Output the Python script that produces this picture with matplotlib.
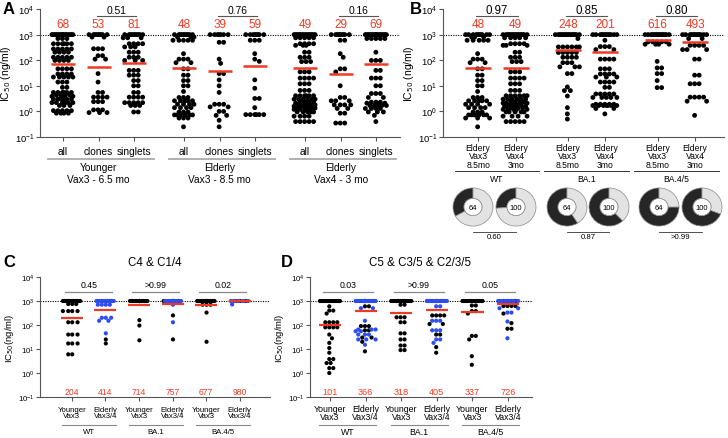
import numpy as np
import matplotlib.pyplot as plt
import matplotlib.transforms as mtrans
from matplotlib.ticker import NullLocator

plt.rcParams['font.family'] = ['Liberation Sans', 'DejaVu Sans']

W, H = 728, 439
RED = '#ee3a24'
BLUE = '#2d4cf2'
GREY = '#555555'

# ---- data: (IC50 value, number of antibodies) ----
# panel A
younger_all = [(1000, 16), (700, 3), (440, 6), (275, 5), (205, 4), (130, 5), (98, 4), (46, 4), (29, 4),
               (22, 5), (14, 3), (8.7, 2), (5.5, 6), (4.3, 4), (3.9, 3), (3.0, 6), (2.2, 6), (1.7, 3),
               (1.07, 5), (0.85, 4)]
younger_clones = [(1000, 9), (800, 2), (280, 3), (150, 2), (110, 2), (30, 1), (14, 1), (5.5, 2), (3.6, 4),
                  (2.4, 3), (1.15, 3), (0.9, 3)]
younger_singlets = [(1000, 10), (750, 3), (440, 4), (330, 3), (205, 3), (130, 3), (98, 3), (40, 3), (26, 3),
                    (16, 2), (10, 2), (5.5, 2), (3.6, 4), (2.2, 5), (1.7, 3), (0.95, 2)]
elderly_all = [(1000, 10), (800, 3), (600, 5), (180, 1), (110, 3), (80, 2), (46, 2), (26, 2), (16, 2), (10, 2),
               (6, 1), (3.5, 3), (2.6, 5), (1.9, 4), (1.4, 4), (0.95, 3), (0.73, 6), (0.55, 3), (0.25, 1)]
elderly_clones = [(1000, 7), (500, 2), (110, 1), (75, 1), (30, 2), (17, 1), (10, 1), (5.5, 1), (1.9, 3),
                  (1.5, 2), (1.0, 2), (0.7, 2), (0.45, 1), (0.25, 1)]
elderly_singlets = [(1000, 8), (600, 3), (180, 1), (110, 1), (90, 1), (17, 1), (8, 1), (3.2, 2), (1.4, 1),
                    (0.75, 6)]
vax4_all = [(1000, 15), (750, 5), (440, 4), (380, 3), (205, 2), (130, 3), (88, 3), (35, 3), (20, 4), (12, 3),
            (6.6, 3), (4.1, 6), (3.0, 6), (2.3, 4), (2.1, 3), (1.8, 4), (1.6, 3), (1.35, 4), (1.2, 4),
            (0.95, 5), (0.65, 4), (0.4, 5)]
vax4_clones = [(1000, 9), (600, 2), (180, 1), (130, 1), (46, 2), (35, 1), (10, 1), (3.5, 2), (2.6, 3),
               (1.8, 4), (1.3, 2), (0.85, 2), (0.35, 3)]
vax4_singlets = [(1000, 18), (700, 5), (205, 1), (98, 3), (40, 2), (20, 3), (10, 2), (5, 3), (3.5, 2),
                 (2.3, 3), (2.1, 3), (1.7, 5), (1.3, 4), (0.95, 3), (0.7, 1), (0.4, 1)]
A_groups = [younger_all, younger_clones, younger_singlets, elderly_all, elderly_clones, elderly_singlets,
            vax4_all, vax4_clones, vax4_singlets]
A_medians = [68, 53, 81, 48, 39, 59, 49, 29, 69]
A_cats = ['all', 'clones', 'singlets']
A_cohorts = [('Younger', 'Vax3 - 6.5 mo'), ('Elderly', 'Vax3 - 8.5 mo'), ('Elderly', 'Vax4 - 3 mo')]
A_pvals = ['0.51', '0.76', '0.16']

# panel B
ba1_vax3 = [(1000, 15), (700, 1), (330, 6), (200, 5), (130, 4), (80, 3), (55, 3), (30, 2), (9, 1), (6.5, 2),
            (4, 1), (1.4, 1), (0.8, 1), (0.5, 1)]
ba1_vax4 = [(1000, 12), (600, 1), (340, 3), (260, 2), (110, 4), (46, 3), (29, 4), (22, 3), (14, 4), (8.7, 2),
            (4.8, 5), (3.5, 5), (1.9, 5), (1.7, 7), (1.3, 2), (0.8, 1)]
ba45_vax3 = [(1000, 14), (520, 5), (420, 4), (90, 1), (50, 2), (30, 2), (16, 1), (8.5, 2)]
ba45_vax4 = [(1000, 12), (700, 2), (380, 4), (260, 3), (110, 2), (26, 2), (12, 3), (3.6, 4), (2.5, 2), (0.7, 1)]
B_groups = [elderly_all, vax4_all, ba1_vax3, ba1_vax4, ba45_vax3, ba45_vax4]
B_medians = [48, 49, 248, 201, 616, 493]
B_variants = ['WT', 'BA.1', 'BA.4/5']
B_pvals = ['0.97', '0.85', '0.80']
B_cat = ['Eldery\nVax3\n8.5mo', 'Eldery\nVax4\n3mo']
donut_dark = [0.33, 0.26, 0.59, 0.62, 0.75, 0.69]
donut_n = ['64', '100', '64', '100', '64', '100']
donut_pvals = ['0.60', '0.87', '>0.99']

# panel C (black = younger / black in elderly, blue = elderly blue dots)
C_black = [
    [(1000, 14), (750, 3), (380, 4), (130, 3), (40, 3), (17, 3), (6, 2)],
    [(1000, 3), (25, 1), (17, 1)],
    [(1000, 20), (160, 1), (95, 1), (23, 1)],
    [(1000, 4), (250, 1), (25, 1)],
    [(1000, 16), (700, 3), (330, 1), (20, 1)],
    [(1000, 3)],
]
C_blue = [
    [],
    [(1000, 14), (700, 4), (200, 3), (150, 2), (45, 1)],
    [],
    [(1000, 18), (700, 1), (130, 1)],
    [],
    [(1000, 8), (720, 1)],
]
C_medians = [204, 414, 714, 757, 677, 980]

# panel D
D_black = [
    [(1000, 16), (600, 1), (400, 2), (300, 1), (130, 4), (80, 4), (40, 1), (28, 1), (18, 1), (11, 1), (7, 1),
     (3.8, 2), (2.6, 2), (1.6, 2), (1.0, 1)],
    [(1000, 4), (600, 2), (90, 3), (60, 2), (30, 2), (20, 1), (8, 1)],
    [(1000, 16), (700, 2), (210, 3), (130, 2), (45, 2), (25, 2), (14, 2), (9, 2)],
    [(1000, 4), (250, 4), (110, 2), (40, 2), (12, 1), (7, 1)],
    [(1000, 16), (650, 2), (380, 2), (300, 1), (35, 2), (25, 1), (5, 1), (2.2, 1)],
    [(1000, 5), (620, 4), (300, 1), (120, 1), (70, 2)],
]
D_blue = [
    [],
    [(1000, 18), (500, 2), (150, 1), (65, 3), (55, 2), (40, 3), (25, 3), (15, 1)],
    [],
    [(1000, 16), (600, 2), (150, 3), (60, 3), (25, 2), (18, 1)],
    [],
    [(1000, 10), (500, 2), (330, 2), (140, 1), (28, 1)],
]
D_medians = [101, 366, 318, 405, 337, 726]
CD_cat = ['Younger\nVax3', 'Elderly\nVax3/4']
CD_variants = ['WT', 'BA.1', 'BA.4/5']
C_pvals = ['0.45', '>0.99', '0.02']
D_pvals = ['0.03', '>0.99', '0.05']


def expand(pairs):
    if not pairs:
        return np.array([])
    return np.concatenate([np.full(n, v, float) for v, n in pairs])


def swarm(ax, x0, vals, half, d):
    # greedy beeswarm in pixel space, highest values placed first
    tr = ax.transData
    pts = tr.transform(np.column_stack([np.full(len(vals), x0), vals]))
    ys = pts[:, 1]
    cands = np.arange(-half, half + 0.01, d / 3.0)
    cands = cands[np.argsort(np.abs(cands), kind='stable')]
    placed = []
    xs = np.zeros(len(vals))
    for i in np.argsort(-vals, kind='stable'):
        y = ys[i]
        best, bestd = 0.0, -1.0
        for c in cands:
            if placed:
                arr = np.array(placed)
                md = np.min(np.hypot(arr[:, 0] - c, arr[:, 1] - y))
            else:
                md = 1e9
            if md >= d:
                best = c
                break
            if md > bestd:
                bestd, best = md, c
        placed.append((best, y))
        xs[i] = best
    return tr.inverted().transform(np.column_stack([pts[:, 0] + xs, ys]))[:, 0]


fig = plt.figure(figsize=(W / 100, H / 100), dpi=100)


def add_ax(x0, x1, y0, y1):
    return fig.add_axes([x0 / W, 1 - y1 / H, (x1 - x0) / W, (y1 - y0) / H])


def setup(ax, xlim, tsize, pos):
    ax.set_yscale('log')
    ax.set_ylim(0.1, 1e4)
    ax.set_xlim(*xlim)
    for s in ['top', 'right']:
        ax.spines[s].set_visible(False)
    for s in ['left', 'bottom']:
        ax.spines[s].set_color(GREY)
        ax.spines[s].set_linewidth(0.8)
    ax.set_yticks([0.1, 1, 10, 100, 1000, 10000])
    ax.yaxis.set_minor_locator(NullLocator())
    ax.tick_params(axis='y', labelsize=tsize, length=3, width=0.8, color=GREY, pad=1)
    ax.set_xticks(pos)
    ax.set_xticklabels([])
    ax.tick_params(axis='x', length=3, width=0.8, color=GREY)
    ax.axhline(1000, color='k', ls=(0, (1, 1.2)), lw=0.8, zorder=1)
    ax.patch.set_alpha(0)


def blend(ax):
    return mtrans.blended_transform_factory(ax.transData, fig.transFigure)


def btxt(ax, x, ypx, s, **kw):
    ax.text(x, 1 - ypx / H, s, transform=blend(ax), ha='center', va='center', clip_on=False, **kw)


def bline(ax, x1, x2, ypx, **kw):
    ax.plot([x1, x2], [1 - ypx / H] * 2, transform=blend(ax), clip_on=False, **kw)


def draw_col(ax, x, black, blue, half, d, s):
    vb = expand(black)
    vu = expand(blue)
    vals = np.concatenate([vb, vu])
    xs = swarm(ax, x, vals, half, d)
    cols = [('k' if i < len(vb) else BLUE) for i in range(len(vals))]
    ax.scatter(xs, vals, s=s, c=cols, linewidths=0, zorder=3, clip_on=False)


# ---------------- panel A ----------------
axA = add_ax(40, 400, 10, 138)
A_pos = [g * 3.33 + k * 0.98 for g in range(3) for k in range(3)]
setup(axA, (-0.63, 9.27), 6.8, A_pos)
ua = 36.3
for i, (x, grp, m) in enumerate(zip(A_pos, A_groups, A_medians)):
    draw_col(axA, x, grp, [], 11, 4.5, 12)
    axA.plot([x - 12 / ua, x + 12 / ua], [m, m], color=RED, lw=1.8, zorder=4, solid_capstyle='butt')
    btxt(axA, x, 25, str(m), color=RED, fontsize=8.5)
    btxt(axA, x, 152, A_cats[i % 3], fontsize=7.3)
for g in range(3):
    c1, c2 = A_pos[3 * g + 1], A_pos[3 * g + 2]
    bline(axA, c1 - 0.05, c2 + 0.05, 17, color=GREY, lw=0.8)
    btxt(axA, (c1 + c2) / 2, 10.5, A_pvals[g], fontsize=7.4)
    bline(axA, A_pos[3 * g] - 0.42, A_pos[3 * g + 2] + 0.55, 160, color='#aaaaaa', lw=1.3)
    btxt(axA, A_pos[3 * g + 1], 168, A_cohorts[g][0], fontsize=7.3)
    btxt(axA, A_pos[3 * g + 1], 180, A_cohorts[g][1], fontsize=7.3)
axA.set_ylabel('IC$_{50}$ (ng/ml)', fontsize=7.5, labelpad=1)

# ---------------- panel B ----------------
axB = add_ax(443, 724, 10, 138)
B_pos = [g * 2.3 + k * 0.96 for g in range(3) for k in range(2)]
setup(axB, (-0.9, 6.3), 6.8, B_pos)
ub = 39.0
for i, (x, grp, m) in enumerate(zip(B_pos, B_groups, B_medians)):
    draw_col(axB, x, grp, [], 12.5, 4.5, 12)
    axB.plot([x - 13 / ub, x + 13 / ub], [m, m], color=RED, lw=1.8, zorder=4, solid_capstyle='butt')
    btxt(axB, x, 25, str(m), color=RED, fontsize=8.5)
    btxt(axB, x, 157, B_cat[i % 2], fontsize=6.2, linespacing=0.95)
for g in range(3):
    c1, c2 = B_pos[2 * g], B_pos[2 * g + 1]
    bline(axB, c1 - 0.05, c2 + 0.05, 17, color=GREY, lw=0.8)
    btxt(axB, (c1 + c2) / 2, 10.5, B_pvals[g], fontsize=8.3)
    bline(axB, c1 - 0.6, c2 + 0.6, 172, color='#333333', lw=0.7)
    btxt(axB, (c1 + c2) / 2, 180, B_variants[g], fontsize=6.2)
axB.set_ylabel('IC$_{50}$ (ng/ml)', fontsize=7.5, labelpad=1)

# donuts
donut_cx = [473, 516, 567, 609, 659, 702]
for cx, frac, n in zip(donut_cx, donut_dark, donut_n):
    dax = fig.add_axes([(cx - 21) / W, 1 - (208 + 20) / H, 42 / W, 40 / H])
    dax.pie([frac, 1 - frac], colors=['#262626', '#e3e3e3'], startangle=90, counterclock=True,
            radius=1.0, wedgeprops=dict(width=0.55, edgecolor='#888888', linewidth=0.5))
    dax.add_patch(plt.Circle((0, 0), 0.45, facecolor='white', edgecolor='#888888', lw=0.5, zorder=5))
    dax.text(0, 0, n, ha='center', va='center', fontsize=5.5, zorder=6)
    dax.set_aspect('auto')
    dax.set_xlim(-1.05, 1.05)
    dax.set_ylim(-1.05, 1.05)
for g in range(3):
    x1, x2 = donut_cx[2 * g], donut_cx[2 * g + 1]
    fig.add_artist(plt.Line2D([x1 / W, x2 / W], [1 - 233 / H] * 2, color='#333333', lw=0.6))
    fig.text((x1 + x2) / 2 / W, 1 - 238 / H, donut_pvals[g], ha='center', va='center', fontsize=5.6)


# ---------------- panels C and D ----------------
def panel_cd(ax, pos, unit, blacks, blues, meds, pvals, title, tx, fs_cat, fs_red, half):
    for i, x in enumerate(pos):
        draw_col(ax, x, blacks[i], blues[i], half, 4.0, 9)
        ax.plot([x - 11 / unit, x + 11 / unit], [meds[i], meds[i]], color=RED, lw=1.6, zorder=4,
                solid_capstyle='butt')
        btxt(ax, x, 393, str(meds[i]), color=RED, fontsize=fs_red)
        btxt(ax, x, 413.5, CD_cat[i % 2], fontsize=fs_cat, linespacing=0.95)
    for g in range(3):
        c1, c2 = pos[2 * g], pos[2 * g + 1]
        bline(ax, c1 - 0.2, c2 + 0.2, 293, color='#888888', lw=0.9)
        btxt(ax, (c1 + c2) / 2, 285, pvals[g], fontsize=6.3)
        bline(ax, c1 - 0.3, c2 + 0.3, 426, color='#888888', lw=0.8)
        btxt(ax, (c1 + c2) / 2, 433, CD_variants[g], fontsize=fs_cat)
    fig.text(tx / W, 1 - 263 / H, title, ha='center', va='center', fontsize=8.3)
    ax.set_ylabel('IC$_{50}$(ng/ml)', fontsize=6.8, labelpad=1)


axC = add_ax(40, 270, 278, 398)
C_pos = [float(k) for k in range(6)]
setup(axC, (-0.95, 5.9), 5.6, C_pos)
panel_cd(axC, C_pos, 33.6, C_black, C_blue, C_medians, C_pvals, 'C4 & C1/4', 155, 5.6, 6.2, 9)

axD = add_ax(310, 532, 278, 398)
D_pos = [float(k) for k in range(6)]
setup(axD, (-0.56, 5.67), 5.6, D_pos)
panel_cd(axD, D_pos, 35.6, D_black, D_blue, D_medians, D_pvals, 'C5 & C3/5 & C2/3/5', 420, 6.3, 6.6, 10)

for lab, x, y in [('A', 3, 10), ('B', 410, 10), ('C', 3, 263), ('D', 281, 263)]:
    fig.text(x / W, 1 - y / H, lab, fontsize=12, fontweight='bold', va='center', ha='left')

fig.savefig('out.png', dpi=100)
